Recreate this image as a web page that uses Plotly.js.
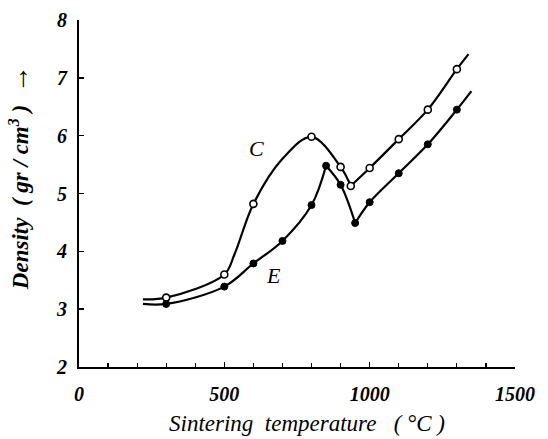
<!DOCTYPE html>
<html>
<head>
<meta charset="utf-8">
<script src="https://cdn.plot.ly/plotly-3.0.1.min.js"></script>
<style>html,body{margin:0;padding:0;background:#fff;}#chart{width:548px;height:439px;}</style>
</head>
<body>
<div id="chart"></div>
<script>
// Curve C (open circles)
var cTemp = [300, 500, 600, 800, 900, 935, 1000, 1100, 1200, 1300];
var cDensity = [3.2, 3.6, 4.82, 5.98, 5.46, 5.13, 5.44, 5.94, 6.45, 7.15];
// Curve C drawn line (incl. unmarked points), split at the sharp minimum
var cLineSeg1T = [220, 300, 500, 535, 600, 700, 800, 900, 935];
var cLineSeg1D = [3.17, 3.2, 3.6, 3.95, 4.82, 5.6, 5.98, 5.46, 5.13];
var cLineSeg2T = [935, 1000, 1100, 1200, 1300, 1340];
var cLineSeg2D = [5.13, 5.44, 5.94, 6.45, 7.15, 7.41];

// Curve E (filled circles)
var eTemp = [300, 500, 600, 700, 800, 850, 900, 950, 1000, 1100, 1200, 1300];
var eDensity = [3.09, 3.39, 3.79, 4.18, 4.8, 5.48, 5.15, 4.49, 4.85, 5.35, 5.85, 6.45];
var eLineSeg1T = [220, 300, 500, 600, 700, 800, 850];
var eLineSeg1D = [3.09, 3.09, 3.39, 3.79, 4.18, 4.8, 5.48];
var eLineSeg2T = [850, 900, 950];
var eLineSeg2D = [5.48, 5.15, 4.49];
var eLineSeg3T = [950, 1000, 1100, 1200, 1300, 1350];
var eLineSeg3D = [4.49, 4.85, 5.35, 5.85, 6.45, 6.77];

var curveLabels = ['C', 'E'];
var curveLabelT = [611, 668];
var curveLabelD = [5.78, 3.59];

var xTickVals = [0, 500, 1000, 1500];
var yTickVals = [2, 3, 4, 5, 6, 7, 8];

var xTitle = 'Sintering  temperature   ( °C )';
var yTitle = 'Density  ( gr / cm<sup>3</sup> )  <span style="font-size:28px">→</span>';

var serif = '"Liberation Serif", "Times New Roman", serif';
var lineStyle = {color: '#000', width: 2.2, shape: 'spline', smoothing: 1};

function seg(x, y) {
  return {x: x, y: y, mode: 'lines', line: lineStyle, hoverinfo: 'skip', showlegend: false};
}

var traces = [
  seg(cLineSeg1T, cLineSeg1D),
  seg(cLineSeg2T, cLineSeg2D),
  seg(eLineSeg1T, eLineSeg1D),
  seg(eLineSeg2T, eLineSeg2D),
  seg(eLineSeg3T, eLineSeg3D),
  {x: cTemp, y: cDensity, mode: 'markers', name: 'C', showlegend: false,
   marker: {symbol: 'circle', size: 7, color: '#fff', line: {color: '#000', width: 1.6}}},
  {x: eTemp, y: eDensity, mode: 'markers', name: 'E', showlegend: false,
   marker: {symbol: 'circle', size: 7, color: '#000', line: {color: '#000', width: 1}}}
];

var annotations = curveLabels.map(function (t, i) {
  return {x: curveLabelT[i], y: curveLabelD[i], xref: 'x', yref: 'y', text: t, showarrow: false,
          font: {family: serif, size: 22, style: 'italic', color: '#000'}};
});
annotations.push({
  x: 0.523, y: -0.163, xref: 'paper', yref: 'paper', xanchor: 'center', yanchor: 'middle',
  text: xTitle, showarrow: false,
  font: {family: serif, size: 23, style: 'italic', color: '#000'}
});
annotations.push({
  x: -0.137, y: 0.545, xref: 'paper', yref: 'paper', xanchor: 'center', yanchor: 'middle',
  text: yTitle, textangle: -90, showarrow: false,
  font: {family: serif, size: 23, style: 'italic', weight: 'bold', color: '#000'}
});

var tickFont = {family: serif, size: 20, style: 'italic', weight: 'bold', color: '#000'};

var layout = {
  width: 548, height: 439,
  margin: {l: 79, r: 33, t: 20, b: 72},
  paper_bgcolor: '#fff', plot_bgcolor: '#fff',
  showlegend: false,
  xaxis: {
    range: [0, 1500], showgrid: false, zeroline: false,
    showline: true, linecolor: '#000', linewidth: 2,
    tickmode: 'array', tickvals: xTickVals,
    ticks: 'inside', ticklen: 5, tickwidth: 1.5, tickcolor: '#000',
    ticklabelstandoff: 8,
    minor: {dtick: 100, ticks: 'inside', ticklen: 4, tickwidth: 1.2, tickcolor: '#000'},
    tickfont: tickFont
  },
  yaxis: {
    range: [2, 8], showgrid: false, zeroline: false,
    showline: true, linecolor: '#000', linewidth: 2,
    tickmode: 'array', tickvals: yTickVals,
    ticks: 'inside', ticklen: 5, tickwidth: 1.5, tickcolor: '#000',
    ticklabelstandoff: 6,
    tickfont: tickFont
  },
  annotations: annotations
};

Plotly.newPlot('chart', traces, layout, {displayModeBar: false, staticPlot: true});
</script>
</body>
</html>
